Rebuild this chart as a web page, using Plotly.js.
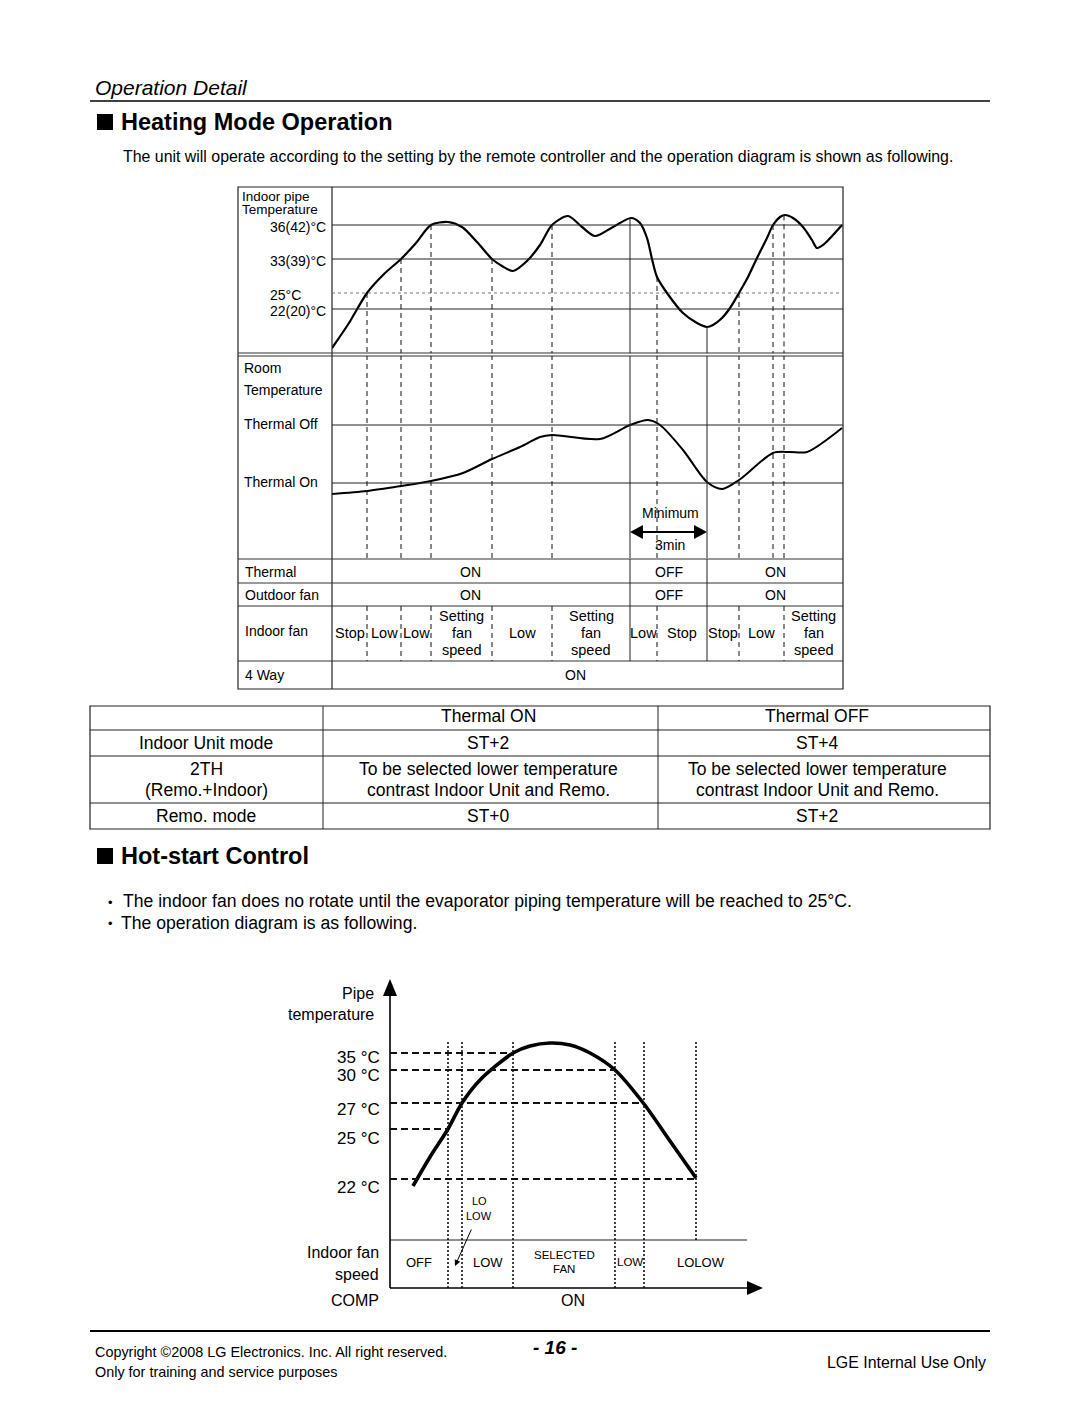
<!DOCTYPE html>
<html><head><meta charset="utf-8">
<script src="https://cdn.plot.ly/plotly-3.0.1.min.js"></script>
<style>body{margin:0;background:#fff}#c{width:1080px;height:1405px}</style>
</head><body><div id="c"></div>
<script>
// ---------------- DATA ----------------
// Heating mode diagram: time in arbitrary units (0-511), levels in arbitrary panel units
const pipeTime  = [0,17,35,52,69,84,99,116,130,145,160,170,181,195,208,220,236,250,263,281,299,308,315,320,325,335,351,365,375,381,390,398,407,416,425,435,441,448,453,461,471,480,485,491,501,510];
const pipeLevel = [5,30,60,79,94,110,128,131,126,111,94,87,82,92,108,128,137,126,117,126,135,130,115,94,76,60,40,30,26,28,35,45,60,76,95,115,128,136,138,135,126,113,105,108,118,128];
const pipeRefLevels = [128, 94, 60, 44];
const pipeRefLabels = ['36(42)°C', '33(39)°C', '25°C', '22(20)°C'];

const roomTime  = [0,35,69,99,131,160,188,208,220,268,298,316,328,351,375,390,407,441,458,475,510];
const roomLevel = [64,67,72,77,85,99,111,121,123,119,133,138,133,108,76,69,78,105,106,106,130];
const roomRefLevels = [133, 75];
const roomRefLabels = ['Thermal Off', 'Thermal On'];

const fanChangeTimes = [35, 69, 99, 160, 220, 325, 407, 452];
const thermalSwitchTimes = [298, 375];
const extraMarkTimes = [441];

const fanSegBounds = [0,35,69,99,160,220,298,325,375,407,452,511];
const fanSegLabels = ['Stop','Low','Low','Setting<br>fan<br>speed','Low','Setting<br>fan<br>speed','Low','Stop','Stop','Low','Setting<br>fan<br>speed'];
const thermalBounds = [0, 298, 375, 511];
const thermalStates = ['ON', 'OFF', 'ON'];
const outdoorStates = ['ON', 'OFF', 'ON'];
const fourWayState = 'ON';

// Mode table
const tableHeader = ['', 'Thermal ON', 'Thermal OFF'];
const tableRows = [
  ['Indoor Unit mode', 'ST+2', 'ST+4'],
  ['2TH<br>(Remo.+Indoor)', 'To be selected lower temperature<br>contrast Indoor Unit and Remo.', 'To be selected lower temperature<br>contrast Indoor Unit and Remo.'],
  ['Remo. mode', 'ST+0', 'ST+2']
];

// Hot-start diagram
const hsTime  = [23,40,58,72,90,123,140,160,180,200,225,254,280,306];
const hsLevel = [102,131,159,185,208,235,242,245,243,235,218,184,147,110];
const hsRefLevels = [235, 218, 185, 159, 109];
const hsLabelLevels = [231, 213, 179, 150, 101];
const hsRefLabels = ['35 °C', '30 °C', '27 °C', '25 °C', '22 °C'];
const hsCrossTimes = [123, 225, 254, 58, 306];
const hsFanChangeTimes = [58, 72, 123, 225, 254];
const hsEndTime = 306;
const hsFanBounds = [0, 58, 72, 123, 225, 254, 368];
const hsFanLabels = ['OFF', '', 'LOW', 'SELECTED<br>FAN', 'LOW', 'LOLOW'];

// ---------------- LAYOUT HELPERS ----------------
const W = 1080, H = 1405;
const px = x => x / W, py = y => 1 - y / H;
const F = '"Liberation Sans", Arial, sans-serif';
const FN = '"Liberation Sans Narrow", "Liberation Sans", Arial, sans-serif';
const shapes = [], ann = [];
function L(x0, y0, x1, y1, w, dash, color) {
  shapes.push({type:'line', xref:'paper', yref:'paper', x0:px(x0), y0:py(y0), x1:px(x1), y1:py(y1),
    line:{color:color||'#000', width:w||1, dash:dash||'solid'}});
}
function LD(xref, yref, x0, y0, x1, y1, w, dash, color) {
  shapes.push({type:'line', xref, yref, x0, y0, x1, y1, line:{color:color||'#000', width:w||1, dash:dash||'solid'}});
}
function tri(pts) {
  const d = pts.map((p, i) => (i ? 'L' : 'M') + px(p[0]).toFixed(5) + ',' + py(p[1]).toFixed(5)).join(' ') + ' Z';
  shapes.push({type:'path', xref:'paper', yref:'paper', path:d, fillcolor:'#000', line:{width:0}});
}
function T(text, x, y, size, o) {
  o = o || {};
  ann.push({text, x:px(x), y:py(y), xref:'paper', yref:'paper', xanchor:o.xa||'center', yanchor:'middle',
    align:o.al||'center', showarrow:false, font:{family:o.ff||F, size, color:o.c||'#000'}});
}
// multi-line text with explicit line spacing (pixels)
function TM(text, x, xref, yc, size, gap, o) {
  o = o || {};
  const lines = text.split('<br>');
  lines.forEach((s, k) => {
    const y = yc + (k - (lines.length - 1) / 2) * gap;
    ann.push({text:s, x, y:py(y), xref, yref:'paper', xanchor:o.xa||'center', yanchor:'middle',
      showarrow:false, font:{family:o.ff||F, size, color:'#000'}});
  });
}
function TX(text, x, xref, y, yref, size, o) {
  o = o || {};
  ann.push({text, x, y, xref, yref, xanchor:o.xa||'center', yanchor:'middle', align:o.al||'center',
    showarrow:false, yshift:o.ys||0, font:{family:o.ff||F, size, color:o.c||'#000'}});
}
function interp(xs, ys, t) {
  for (let i = 0; i < xs.length - 1; i++) {
    if (t >= xs[i] && t <= xs[i+1]) return ys[i] + (ys[i+1]-ys[i]) * (t - xs[i]) / (xs[i+1]-xs[i]);
  }
  return ys[ys.length-1];
}
const sq = (x, y) => shapes.push({type:'rect', xref:'paper', yref:'paper', x0:px(x), x1:px(x+16), y0:py(y+16), y1:py(y), fillcolor:'#000', line:{width:0}});

// ---------------- PAGE HEADER ----------------
T('<i>Operation Detail</i>', 93, 87, 21, {xa:'left'});
L(90, 101, 990, 101, 1.3);
sq(97, 114);
T('<b>Heating Mode Operation</b>', 119, 122, 23.5, {xa:'left'});
T('The unit will operate according to the setting by the remote controller and the operation diagram is shown as following.', 121, 156, 15.9, {xa:'left'});

// ---------------- HEATING DIAGRAM FRAME ----------------
shapes.push({type:'rect', xref:'paper', yref:'paper', x0:px(238), x1:px(843), y0:py(689), y1:py(187), line:{color:'#222', width:1.2}});
L(332, 187, 332, 689, 1.2, 'solid', '#222');
L(238, 353, 843, 353, 1, 'solid', '#333');
L(238, 356, 843, 356, 1, 'solid', '#333');
[559, 583, 606, 661].forEach(y => L(238, y, 843, y, 1, 'solid', '#333'));

// pipe reference lines + labels
pipeRefLevels.forEach((l, i) => {
  LD('x', 'y', 0, l, 511, l, 1, i === 2 ? 'dot' : 'solid', i === 2 ? '#6f7f78' : '#222');
  TX(pipeRefLabels[i], px(268), 'paper', l, 'y', 14, {xa:'left', ys:-2});
});
T('Indoor pipe', 240, 196, 13.5, {xa:'left'});
T('Temperature', 240, 210, 13.5, {xa:'left'});

// room reference lines + labels
roomRefLevels.forEach((l, i) => {
  LD('x2', 'y2', 0, l, 511, l, 1, 'solid', '#222');
  TX(roomRefLabels[i], px(242), 'paper', l, 'y2', 14, {xa:'left', ys:1});
});
T('Room', 242, 368, 14, {xa:'left'});
T('Temperature', 242, 390, 14, {xa:'left'});

// event marks
fanChangeTimes.concat(extraMarkTimes).forEach(t => {
  LD('x', 'y', t, interp(pipeTime, pipeLevel, t), t, 0, 1, '5px,4px', '#111');
  LD('x2', 'y2', t, 0, t, 202, 1, '5px,4px', '#111');
});
fanChangeTimes.forEach(t => {
  shapes.push({type:'line', xref:'x', yref:'paper', x0:t, x1:t, y0:py(606), y1:py(661), line:{color:'#111', width:1, dash:'5px,4px'}});
});
thermalSwitchTimes.forEach(t => {
  LD('x', 'y', t, interp(pipeTime, pipeLevel, t), t, 0, 1, 'solid', '#222');
  LD('x2', 'y2', t, 0, t, 202, 1, 'solid', '#222');
  shapes.push({type:'line', xref:'x', yref:'paper', x0:t, x1:t, y0:py(559), y1:py(661), line:{color:'#222', width:1}});
});

// minimum 3min arrow
T('Minimum', 670, 513, 14);
T('3min', 670, 545, 14);
L(640, 532, 697, 532, 2);
tri([[630,532],[643,525],[643,539]]);
tri([[707,532],[694,525],[694,539]]);

// state rows
T('Thermal', 243, 572, 14, {xa:'left'});
T('Outdoor fan', 243, 595, 14, {xa:'left'});
T('Indoor fan', 243, 631, 14, {xa:'left'});
T('4 Way', 243, 675, 14, {xa:'left'});
thermalStates.forEach((s, i) => TX(s, (thermalBounds[i] + thermalBounds[i+1]) / 2 - (i === 0 ? 11 : 0), 'x', py(572), 'paper', 14));
outdoorStates.forEach((s, i) => TX(s, (thermalBounds[i] + thermalBounds[i+1]) / 2 - (i === 0 ? 11 : 0), 'x', py(595), 'paper', 14));
fanSegLabels.forEach((s, i) => TM(s, (fanSegBounds[i] + fanSegBounds[i+1]) / 2, 'x', 633, 14.5, 16.5));
TX(fourWayState, 243, 'x', py(675), 'paper', 14);

// ---------------- MODE TABLE ----------------
shapes.push({type:'rect', xref:'paper', yref:'paper', x0:px(90), x1:px(990), y0:py(829), y1:py(706), line:{color:'#222', width:1.2}});
[730, 756, 803].forEach(y => L(90, y, 990, y, 1, 'solid', '#222'));
[323, 658].forEach(x => L(x, 706, x, 829, 1, 'solid', '#222'));
const colC = [206, 488, 817];
tableHeader.forEach((s, i) => { if (s) T(s, colC[i], 716, 17.5); });
const rowC = [743, 779.5, 816];
tableRows.forEach((r, j) => r.forEach((s, i) => TM(s, px(colC[i]), 'paper', rowC[j], 17.5, 21)));

// ---------------- HOT-START ----------------
sq(97, 848);
T('<b>Hot-start Control</b>', 119, 856, 23.5, {xa:'left'});
T('•', 110, 902, 13);
T('The indoor fan does no rotate until the evaporator piping temperature will be reached to 25°C.', 121, 901, 17.6, {xa:'left'});
T('•', 110, 924, 13);
T('The operation diagram is as following.', 119, 923, 17.6, {xa:'left'});

// axes frame
L(390, 1288, 390, 994, 1.6);
tri([[390,979],[383,996],[397,996]]);
L(390, 1288, 749, 1288, 1.6);
tri([[763,1288],[747,1281],[747,1295]]);
LD('x3', 'y3', 0, 48, 357, 48, 1.2, 'solid', '#222');
hsRefLevels.forEach((l, i) => {
  LD('x3', 'y3', 0, l, hsCrossTimes[i], l, 2, '7px,4px', '#111');
  TX(hsRefLabels[i], px(382), 'paper', hsLabelLevels[i], 'y3', 17, {xa:'right'});
});
hsFanChangeTimes.forEach(t => LD('x3', 'y3', t, 246, t, 0, 1.6, '2px,2px', '#111'));
LD('x3', 'y3', hsEndTime, 246, hsEndTime, 48, 1.6, '2px,2px', '#111');
T('Pipe', 376, 993, 16, {xa:'right'});
T('temperature', 376, 1014, 16, {xa:'right'});
T('Indoor fan', 381, 1252, 16, {xa:'right'});
T('speed', 381, 1274, 16, {xa:'right'});
T('COMP', 355, 1300, 16);
T('ON', 573, 1300, 16);
hsFanLabels.forEach((s, i) => {
  if (!s) return;
  const small = (s.indexOf('SELECTED') >= 0 || i === 4);
  TM(s, (hsFanBounds[i] + hsFanBounds[i+1]) / 2, 'x3', 1262, small ? 11.5 : 13, 14);
});
TM('LO<br>LOW', px(479), 'paper', 1208, 11, 15);
ann.push({text:'', x:px(455), y:py(1266), xref:'paper', yref:'paper', ax:17, ay:-38, showarrow:true,
  arrowhead:2, arrowsize:1.2, arrowwidth:1, arrowcolor:'#000'});

// ---------------- FOOTER ----------------
L(90, 1331, 990, 1331, 2);
T('Copyright ©2008 LG Electronics. Inc. All right reserved.', 93, 1352, 14.4, {xa:'left', ff:FN});
T('Only for training and service purposes', 93, 1372, 14.4, {xa:'left', ff:FN});
T('<b><i>- 16 -</i></b>', 555, 1347, 19);
T('LGE Internal Use Only', 988, 1362, 15.9, {xa:'right', ff:FN});

// ---------------- TRACES ----------------
const traces = [
  {x:pipeTime, y:pipeLevel, xaxis:'x', yaxis:'y', mode:'lines', line:{shape:'spline', smoothing:0.8, color:'#000', width:2.2}, hoverinfo:'skip'},
  {x:roomTime, y:roomLevel, xaxis:'x2', yaxis:'y2', mode:'lines', line:{shape:'spline', smoothing:0.8, color:'#000', width:2}, hoverinfo:'skip'},
  {x:hsTime, y:hsLevel, xaxis:'x3', yaxis:'y3', mode:'lines', line:{shape:'spline', smoothing:0.8, color:'#000', width:3.6}, hoverinfo:'skip'}
];
const hid = {showgrid:false, zeroline:false, showticklabels:false, showline:false, ticks:'', fixedrange:true};
const layout = {
  width:W, height:H, margin:{l:0, r:0, t:0, b:0}, paper_bgcolor:'#fff', plot_bgcolor:'rgba(0,0,0,0)',
  showlegend:false, font:{family:F, color:'#000'},
  xaxis:Object.assign({domain:[px(332), px(843)], range:[0,511], anchor:'y'}, hid),
  yaxis:Object.assign({domain:[py(353), py(187)], range:[0,166], anchor:'x'}, hid),
  xaxis2:Object.assign({domain:[px(332), px(843)], range:[0,511], anchor:'y2'}, hid),
  yaxis2:Object.assign({domain:[py(558), py(356)], range:[0,202], anchor:'x2'}, hid),
  xaxis3:Object.assign({domain:[px(390), px(760)], range:[0,370], anchor:'y3'}, hid),
  yaxis3:Object.assign({domain:[py(1288), py(980)], range:[0,308], anchor:'x3'}, hid),
  shapes, annotations:ann
};
Plotly.newPlot('c', traces, layout, {staticPlot:true, displayModeBar:false});
</script></body></html>
